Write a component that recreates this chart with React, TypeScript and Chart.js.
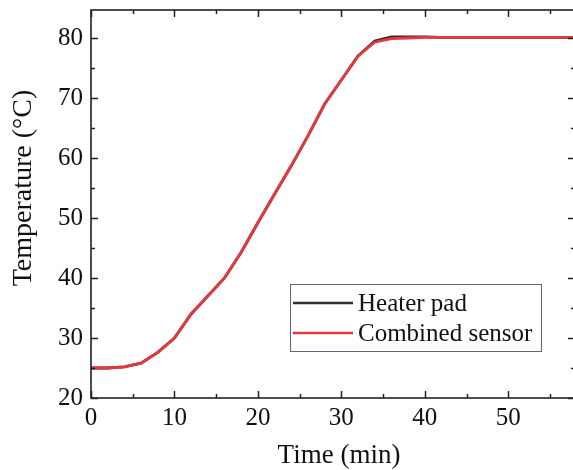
import React, { useEffect, useRef } from "react";
import { Chart, registerables } from "chart.js";

Chart.register(...registerables);

const timeMin = [0, 2, 4, 6, 8, 10, 12, 14, 16, 18, 20, 22, 24, 26, 28, 30, 32, 34, 36, 38, 40, 42, 44, 46, 48, 50, 52, 54, 56, 58];
const heaterPad = [25.0, 25.0, 25.2, 25.8, 27.6, 30.0, 34.0, 37.0, 40.0, 44.3, 49.2, 54.0, 58.7, 63.7, 69.0, 73.0, 77.0, 79.5, 80.2, 80.2, 80.2, 80.1, 80.1, 80.1, 80.1, 80.1, 80.1, 80.1, 80.1, 80.1];
const combinedSensor = [25.0, 25.0, 25.2, 25.8, 27.6, 30.0, 34.0, 37.0, 40.0, 44.3, 49.2, 54.0, 58.7, 63.7, 69.0, 73.0, 77.0, 79.3, 79.9, 80.0, 80.1, 80.1, 80.1, 80.1, 80.1, 80.1, 80.1, 80.1, 80.1, 80.1];
const seriesNames = ["Heater pad", "Combined sensor"];
const xTitle = "Time (min)";
const yTitle = "Temperature (°C)";

const FONT = "'Liberation Serif', 'Times New Roman', serif";
const RED = "#e43a3e";
const BLACK = "#2e2e2e";

Chart.defaults.font.family = FONT;

const framePlugin = {
  id: "framePlugin",
  afterDraw(chart: any) {
    const { ctx, chartArea: a, scales } = chart;
    const xs = scales.x;
    const ys = scales.y;
    ctx.save();
    ctx.strokeStyle = "#222";
    ctx.lineWidth = 1.6;
    ctx.strokeRect(a.left, a.top, a.right - a.left, a.bottom - a.top);
    ctx.lineWidth = 1.5;
    for (let v = 0; v <= 58; v += 5) {
      const px = Math.round(xs.getPixelForValue(v)) + 0.5;
      const len = v % 10 === 0 ? 7 : 4;
      ctx.beginPath();
      ctx.moveTo(px, a.bottom);
      ctx.lineTo(px, a.bottom - len);
      ctx.moveTo(px, a.top);
      ctx.lineTo(px, a.top + len);
      ctx.stroke();
    }
    for (let v = 20; v <= 84; v += 5) {
      const py = Math.round(ys.getPixelForValue(v)) + 0.5;
      const len = v % 10 === 0 ? 7 : 4;
      ctx.beginPath();
      ctx.moveTo(a.left, py);
      ctx.lineTo(a.left + len, py);
      ctx.moveTo(a.right, py);
      ctx.lineTo(a.right - len, py);
      ctx.stroke();
    }
    ctx.fillStyle = "#111";
    ctx.font = `27px ${FONT}`;
    ctx.textAlign = "center";
    ctx.textBaseline = "alphabetic";
    ctx.fillText(xTitle, 339, 463);
    ctx.save();
    ctx.translate(24, 188);
    ctx.rotate(-Math.PI / 2);
    ctx.textBaseline = "middle";
    ctx.font = `28px ${FONT}`;
    ctx.fillText(yTitle, 0, 0);
    ctx.restore();
    const lx = 290.5, ly = 284.5, lw = 251, lh = 67;
    ctx.strokeStyle = "#666";
    ctx.lineWidth = 1;
    ctx.strokeRect(lx, ly, lw, lh);
    const colors = [BLACK, RED];
    const rows = [303, 333];
    ctx.font = `25px ${FONT}`;
    ctx.textAlign = "left";
    ctx.textBaseline = "middle";
    for (let i = 0; i < 2; i++) {
      ctx.strokeStyle = colors[i];
      ctx.lineWidth = 2.5;
      ctx.beginPath();
      ctx.moveTo(293, rows[i]);
      ctx.lineTo(353, rows[i]);
      ctx.stroke();
      ctx.fillStyle = "#111";
      ctx.fillText(seriesNames[i], 358, rows[i] + 1);
    }
    ctx.restore();
  },
};

export default function App() {
  const ref = useRef<HTMLCanvasElement | null>(null);
  useEffect(() => {
    if (!ref.current) return;
    const chart = new Chart(ref.current, {
      type: "line",
      data: {
        datasets: [
          {
            label: seriesNames[0],
            data: timeMin.map((t, i) => ({ x: t, y: heaterPad[i] })),
            borderColor: BLACK,
            borderWidth: 2.8,
            pointRadius: 0,
            tension: 0,
            order: 1,
          },
          {
            label: seriesNames[1],
            data: timeMin.map((t, i) => ({ x: t, y: combinedSensor[i] })),
            borderColor: RED,
            borderWidth: 2.8,
            pointRadius: 0,
            tension: 0,
            order: 0,
          },
        ],
      },
      options: {
        animation: false,
        responsive: false,
        devicePixelRatio: 1,
        layout: { padding: { top: 10, right: 5, left: 0, bottom: 0 } },
        plugins: { legend: { display: false }, tooltip: { enabled: false } },
        scales: {
          x: {
            type: "linear",
            min: 0,
            max: 58,
            grid: { display: false, drawTicks: false },
            border: { display: false },
            ticks: {
              stepSize: 10,
              padding: 5,
              color: "#111",
              font: { family: FONT, size: 25 },
              maxRotation: 0,
              callback: (v: any) => (Number(v) % 10 === 0 ? String(v) : ""),
            },
            afterFit: (s: any) => {
              s.height = 72;
              s.paddingLeft = 0;
              s.paddingRight = 0;
            },
          },
          y: {
            type: "linear",
            min: 20,
            max: 84.67,
            grid: { display: false, drawTicks: false },
            border: { display: false },
            ticks: {
              stepSize: 10,
              padding: 8,
              color: "#111",
              font: { family: FONT, size: 25 },
              callback: (v: any) => (Number(v) % 10 === 0 ? String(v) : ""),
            },
            afterFit: (s: any) => {
              s.width = 91;
              s.paddingTop = 0;
              s.paddingBottom = 0;
            },
          },
        },
      },
      plugins: [framePlugin],
    });
    return () => chart.destroy();
  }, []);
  return (
    <div style={{ position: "fixed", left: 0, top: 0, width: 573, height: 470, overflow: "hidden", background: "#fff" }}>
      <canvas ref={ref} width={580} height={470} style={{ width: 580, height: 470, display: "block" }} />
    </div>
  );
}
